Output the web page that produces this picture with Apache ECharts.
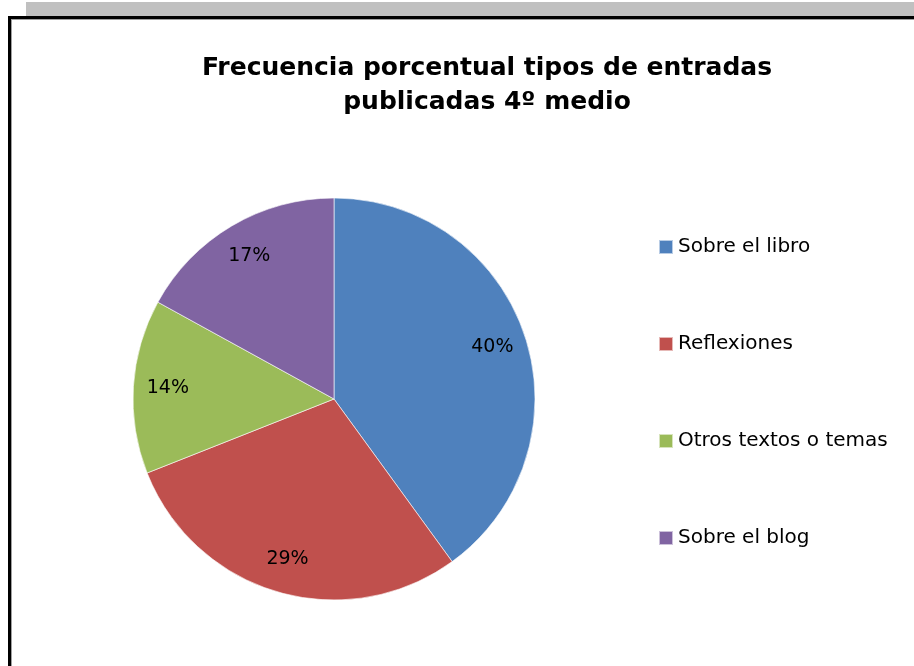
<!DOCTYPE html>
<html>
<head>
<meta charset="utf-8">
<script src="https://cdn.jsdelivr.net/npm/echarts@6/dist/echarts.min.js"></script>
<style>
  html, body { margin: 0; padding: 0; background: #fff; }
  #chart { width: 914px; height: 666px; }
</style>
</head>
<body>
<div id="chart"></div>
<script>
  // datos
  const categorias = ['Sobre el libro', 'Reflexiones', 'Otros textos o temas', 'Sobre el blog'];
  const porcentajes = [40, 29, 14, 17];
  const colores = ['#4F81BD', '#C0504D', '#9BBB59', '#8064A2'];

  const datos = categorias.map((name, i) => ({ name: name, value: porcentajes[i] }));

  const chart = echarts.init(document.getElementById('chart'));
  chart.setOption({
    backgroundColor: '#fff',
    animation: false,
    color: colores,
    title: {
      text: 'Frecuencia porcentual tipos de entradas\npublicadas 4º medio',
      left: 482,
      top: 46,
      textAlign: 'center',
      textStyle: {
        fontFamily: 'DejaVu Sans',
        fontWeight: 'bold',
        fontSize: 25,
        lineHeight: 34,
        color: '#000'
      }
    },
    legend: {
      orient: 'vertical',
      left: 653,
      top: 232,
      itemWidth: 14,
      itemHeight: 14,
      itemGap: 77,
      icon: 'rect',
      data: categorias,
      textStyle: {
        fontFamily: 'DejaVu Sans',
        fontSize: 20,
        color: '#000'
      }
    },
    // marco del gráfico
    graphic: [
      { type: 'rect', shape: { x: 26, y: 2, width: 888, height: 15 }, style: { fill: '#c0c0c0' }, silent: true },
      { type: 'rect', shape: { x: 8, y: 16, width: 906, height: 3 }, style: { fill: '#000' }, silent: true },
      { type: 'rect', shape: { x: 8, y: 16, width: 3, height: 650 }, style: { fill: '#000' }, silent: true },
      { type: 'rect', shape: { x: 11, y: 19, width: 903, height: 1 }, style: { fill: '#a0a0a0' }, silent: true },
      { type: 'rect', shape: { x: 11, y: 19, width: 1, height: 647 }, style: { fill: '#a0a0a0' }, silent: true }
    ],
    series: [
      {
        type: 'pie',
        center: [334, 399],
        radius: [0, 201],
        startAngle: 90,
        clockwise: true,
        label: { show: false },
        labelLine: { show: false },
        emphasis: { disabled: true },
        itemStyle: { borderColor: 'rgba(255,255,255,0.6)', borderWidth: 1 },
        data: datos
      },
      {
        // solo etiquetas, a ~82% del radio
        type: 'pie',
        center: [334, 399],
        radius: [126, 201],
        startAngle: 90,
        clockwise: true,
        silent: true,
        legendHoverLink: false,
        itemStyle: { color: 'transparent', borderWidth: 0 },
        label: {
          show: true,
          position: 'inside',
          formatter: '{c}%',
          fontFamily: 'DejaVu Sans',
          fontSize: 19,
          color: '#000'
        },
        labelLine: { show: false },
        data: datos
      }
    ]
  });
</script>
</body>
</html>
